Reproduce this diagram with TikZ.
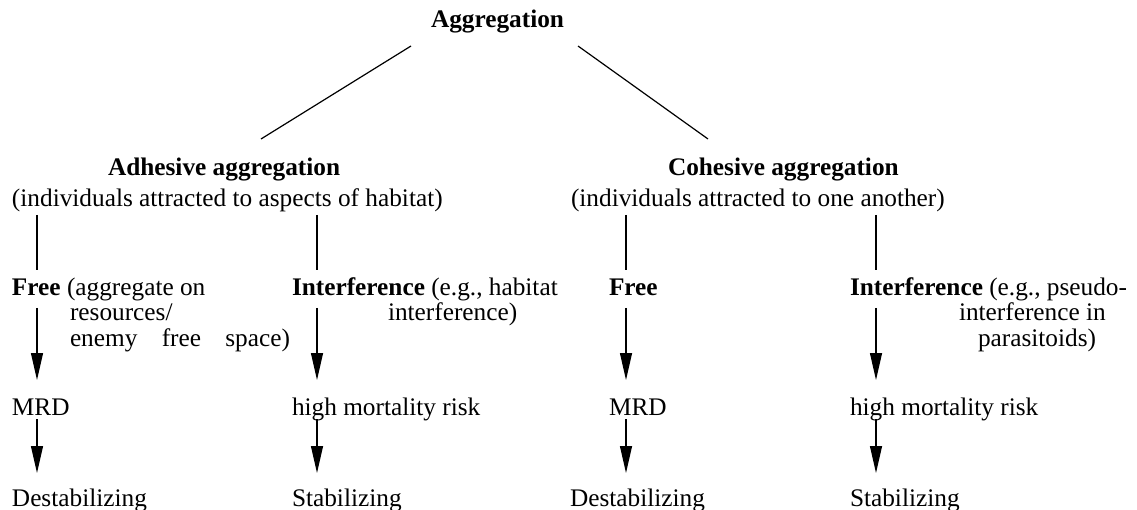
\documentclass[tikz,border=0pt]{standalone}
\usepackage{fontspec}
\setmainfont{Liberation Serif}
\usetikzlibrary{arrows.meta}
\begin{document}
\begin{tikzpicture}[x=1pt,y=-1pt,
  txt/.style={inner sep=0pt, outer sep=0pt, anchor=base west, text height=17.5pt, text depth=5.5pt, font=\fontsize{25.3}{30}\selectfont},
  conn/.style={line width=1.2pt},
  arr/.style={line width=1.2pt, -{Triangle[length=27pt,width=12pt]}}]
\useasboundingbox (0,0) rectangle (1137,510);
% headers
\node[txt] (agg) at (431,28) {\textbf{Aggregation}};
\node[txt] (adh) at (108,176) {\textbf{Adhesive aggregation}};
\node[txt] (adhsub) at (12,207) {(individuals attracted to aspects of habitat)};
\node[txt] (coh) at (668,176) {\textbf{Cohesive aggregation}};
\node[txt] (cohsub) at (571,207) {(individuals attracted to one another)};
% row 3
\node[txt] (af) at (12,296) {\textbf{Free} (aggregate on};
\node[txt] (af2) at (70,321) {resources/};
\node[txt] (af3) at (70,346) {\makebox[220pt][s]{enemy free space)}};
\node[txt] (ai) at (292,296) {\textbf{Interference} (e.g., habitat};
\node[txt] (ai2) at (388,321) {interference)};
\node[txt] (cf) at (609,296) {\textbf{Free}};
\node[txt] (ci) at (850,296) {\textbf{Interference} (e.g., pseudo-};
\node[txt] (ci2) at (959,321) {interference in};
\node[txt] (ci3) at (978,346) {parasitoids)};
% row 4
\node[txt] (amrd) at (12,415) {MRD};
\node[txt] (ahm) at (292,415) {high mortality risk};
\node[txt] (cmrd) at (609,415) {MRD};
\node[txt] (chm) at (850,415) {high mortality risk};
% row 5
\node[txt] (ades) at (12,506) {Destabilizing};
\node[txt] (astab) at (292,506) {Stabilizing};
\node[txt] (cdes) at (570,506) {Destabilizing};
\node[txt] (cstab) at (850,506) {Stabilizing};
% columns
\coordinate (x1) at (37,0);
\coordinate (x2) at (317,0);
\coordinate (x3) at (626,0);
\coordinate (x4) at (876,0);
% top branches
\coordinate (aggL) at (411,46);
\coordinate (aggR) at (578,46);
\coordinate (adhT) at (261,139);
\coordinate (cohT) at (708,139);
\draw[conn] (aggL) -- (adhT);
\draw[conn] (aggR) -- (cohT);
% header to row 3
\draw[conn, shorten <=2.5pt, shorten >=8.5pt] (x1 |- adhsub.south) -- (x1 |- af.north);
\draw[conn, shorten <=2.5pt, shorten >=8.5pt] (x2 |- adhsub.south) -- (x2 |- ai.north);
\draw[conn, shorten <=2.5pt, shorten >=8.5pt] (x3 |- cohsub.south) -- (x3 |- cf.north);
\draw[conn, shorten <=2.5pt, shorten >=8.5pt] (x4 |- cohsub.south) -- (x4 |- ci.north);
% row 3 to row 4
\draw[arr, shorten <=6.5pt, shorten >=17.5pt] (x1 |- af.south) -- (x1 |- amrd.north);
\draw[arr, shorten <=6.5pt, shorten >=17.5pt] (x2 |- ai.south) -- (x2 |- ahm.north);
\draw[arr, shorten <=6.5pt, shorten >=17.5pt] (x3 |- cf.south) -- (x3 |- cmrd.north);
\draw[arr, shorten <=6.5pt, shorten >=17.5pt] (x4 |- ci.south) -- (x4 |- chm.north);
% row 4 to row 5
\draw[arr, shorten <=-1.5pt, shorten >=15.5pt] (x1 |- amrd.south) -- (x1 |- ades.north);
\draw[arr, shorten <=-1.5pt, shorten >=15.5pt] (x2 |- ahm.south) -- (x2 |- astab.north);
\draw[arr, shorten <=-1.5pt, shorten >=15.5pt] (x3 |- cmrd.south) -- (x3 |- cdes.north);
\draw[arr, shorten <=-1.5pt, shorten >=15.5pt] (x4 |- chm.south) -- (x4 |- cstab.north);
\end{tikzpicture}
\end{document}
